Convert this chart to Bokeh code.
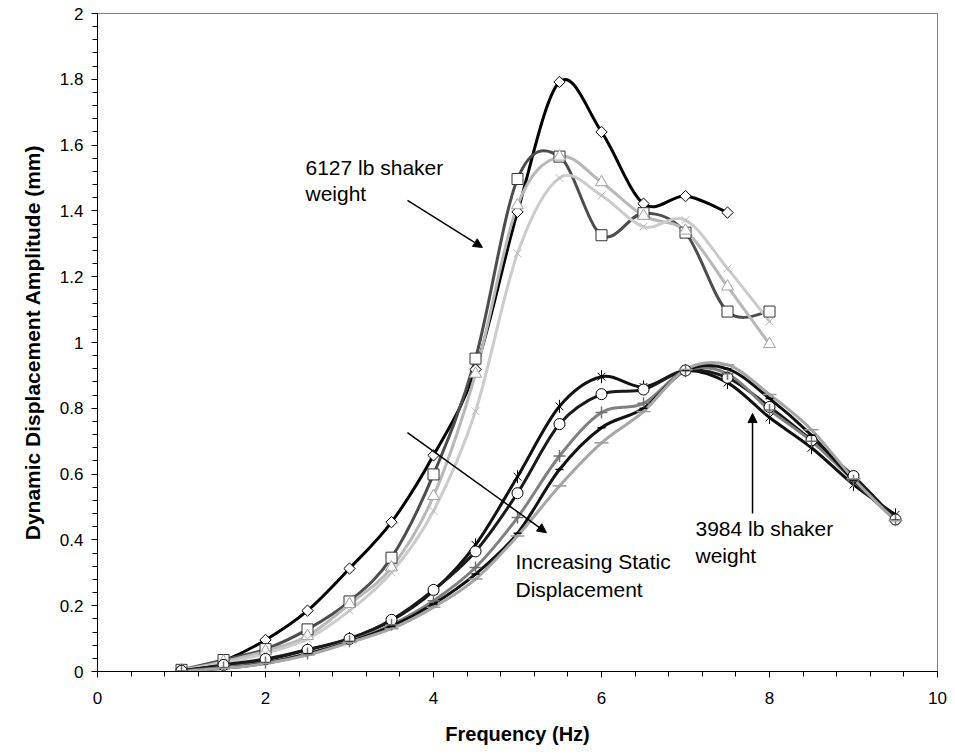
import numpy as np
from bokeh.plotting import figure
from bokeh.models import (SingleIntervalTicker, CustomJSTickFormatter, Label, Arrow,
                          NormalHead, Range1d, ColumnDataSource)
from bokeh.embed import file_html
from bokeh.resources import INLINE

# ---------------- data ----------------
freq_6127 = [1, 1.5, 2, 2.5, 3, 3.5, 4, 4.5, 5, 5.5, 6, 6.5, 7, 7.5, 8]
diamond_6127 = [0.005, 0.033, 0.096, 0.185, 0.313, 0.454, 0.657, 0.918, 1.397, 1.792,
                1.640, 1.422, 1.445, 1.395]
square_6127 = [0.005, 0.035, 0.068, 0.128, 0.213, 0.346, 0.599, 0.951, 1.497, 1.565,
               1.326, 1.393, 1.334, 1.094, 1.094]
triangle_6127 = [0.004, 0.030, 0.062, 0.108, 0.205, 0.316, 0.533, 0.905, 1.417, 1.565,
                 1.487, 1.385, 1.340, 1.170, 0.995]
cross_6127 = [0.003, 0.025, 0.055, 0.099, 0.185, 0.301, 0.488, 0.791, 1.271, 1.500,
              1.447, 1.352, 1.372, 1.225, 1.064]

freq_3984 = [1, 1.5, 2, 2.5, 3, 3.5, 4, 4.5, 5, 5.5, 6, 6.5, 7, 7.5, 8, 8.5, 9, 9.5]
star_3984 = [0.002, 0.018, 0.035, 0.066, 0.100, 0.155, 0.245, 0.385, 0.592, 0.806,
             0.896, 0.865, 0.915, 0.878, 0.772, 0.680, 0.568, 0.476]
circle_3984 = [0.002, 0.020, 0.038, 0.066, 0.099, 0.157, 0.248, 0.365, 0.542, 0.752,
               0.843, 0.857, 0.915, 0.893, 0.804, 0.703, 0.594, 0.462]
plus_3984 = [0.001, 0.012, 0.027, 0.055, 0.092, 0.142, 0.215, 0.316, 0.468, 0.655,
             0.787, 0.815, 0.915, 0.905, 0.795, 0.700, 0.580, 0.460]
dash_3984 = [0.001, 0.010, 0.025, 0.053, 0.090, 0.137, 0.205, 0.296, 0.420, 0.614,
             0.741, 0.800, 0.915, 0.920, 0.830, 0.718, 0.582, 0.460]
longdash_3984 = [0.001, 0.010, 0.024, 0.050, 0.088, 0.130, 0.195, 0.281, 0.412, 0.564,
                 0.695, 0.790, 0.918, 0.932, 0.842, 0.735, 0.586, 0.458]

x_ticks_interval = 2
y_ticks_interval = 0.2
x_title = "Frequency (Hz)"
y_title = "Dynamic Displacement Amplitude (mm)"

FONT = "Liberation Sans"

# ---------------- figure ----------------
p = figure(width=955, height=755, output_backend="svg", toolbar_location=None,
           x_range=Range1d(0, 10), y_range=Range1d(0, 2),
           min_border_left=97, min_border_right=18, min_border_top=13, min_border_bottom=84)
p.background_fill_color = "white"
p.border_fill_color = "white"
p.outline_line_color = "#808080"
p.outline_line_width = 1
p.grid.visible = False

p.xaxis.ticker = SingleIntervalTicker(interval=x_ticks_interval, num_minor_ticks=5)
p.yaxis.ticker = SingleIntervalTicker(interval=y_ticks_interval, num_minor_ticks=5)
p.yaxis.formatter = CustomJSTickFormatter(code="return String(Number(tick.toFixed(2)));")
p.xaxis.formatter = CustomJSTickFormatter(code="return String(Number(tick.toFixed(2)));")

for ax in (p.xaxis, p.yaxis):
    ax.axis_line_color = "black"
    ax.axis_line_width = 1
    ax.major_tick_line_color = "black"
    ax.minor_tick_line_color = "black"
    ax.major_tick_in = 0
    ax.major_tick_out = 6
    ax.minor_tick_in = 0
    ax.minor_tick_out = 5
    ax.major_label_text_font = FONT
    ax.major_label_text_font_size = "17px"
    ax.major_label_text_color = "black"
    ax.axis_label_text_font = FONT
    ax.axis_label_text_font_style = "bold"
    ax.axis_label_text_color = "black"

p.xaxis.axis_label = x_title
p.yaxis.axis_label = y_title
p.xaxis.axis_label_text_font_size = "20px"
p.yaxis.axis_label_text_font_size = "21px"
p.xaxis.major_label_standoff = 14
p.yaxis.major_label_standoff = 8
p.xaxis.axis_label_standoff = 16
p.yaxis.axis_label_standoff = 13


def smooth_source(xs, ys):
    """Bezier control points (Excel-like smoothed line) computed from the data."""
    n = min(len(xs), len(ys))
    x = np.asarray(xs[:n], float)
    y = np.asarray(ys[:n], float)
    xp = np.concatenate([[x[0]], x, [x[-1]]])
    yp = np.concatenate([[y[0]], y, [y[-1]]])
    return ColumnDataSource(dict(
        x0=x[:-1], y0=y[:-1], x1=x[1:], y1=y[1:],
        cx0=x[:-1] + (xp[2:n + 1] - xp[0:n - 1]) / 6.0,
        cy0=y[:-1] + (yp[2:n + 1] - yp[0:n - 1]) / 6.0,
        cx1=x[1:] - (xp[3:n + 2] - xp[1:n]) / 6.0,
        cy1=y[1:] - (yp[3:n + 2] - yp[1:n]) / 6.0,
    ))


series = [
    (freq_6127, diamond_6127, "#000000"),
    (freq_6127, square_6127, "#4d4d4d"),
    (freq_6127, triangle_6127, "#b8b8b8"),
    (freq_6127, cross_6127, "#cccccc"),
    (freq_3984, star_3984, "#111111"),
    (freq_3984, circle_3984, "#1a1a1a"),
    (freq_3984, plus_3984, "#808080"),
    (freq_3984, dash_3984, "#111111"),
    (freq_3984, longdash_3984, "#a6a6a6"),
]
for xs, ys, col in series:
    src = smooth_source(xs, ys)
    p.bezier(x0="x0", y0="y0", x1="x1", y1="y1", cx0="cx0", cy0="cy0", cx1="cx1", cy1="cy1",
             source=src, line_color=col, line_width=3, line_cap="round")


def pts(xs, ys):
    n = min(len(xs), len(ys))
    return ColumnDataSource(dict(x=xs[:n], y=ys[:n]))


# markers, upper group
p.scatter("x", "y", source=pts(freq_6127, diamond_6127), marker="square", angle=np.pi / 4,
          size=8, fill_color="white", line_color="black", line_width=1)
p.scatter("x", "y", source=pts(freq_6127, square_6127), marker="square",
          size=11, fill_color="white", line_color="#333333", line_width=1)
p.scatter("x", "y", source=pts(freq_6127, triangle_6127), marker="triangle",
          size=12, fill_color="white", line_color="#a0a0a0", line_width=1)
p.scatter("x", "y", source=pts(freq_6127, cross_6127), marker="x",
          size=11, line_color="#bbbbbb", line_width=1)
# markers, lower group
p.scatter("x", "y", source=pts(freq_3984, star_3984), marker="x",
          size=11, line_color="black", line_width=1)
p.scatter("x", "y", source=pts(freq_3984, star_3984), marker="dash", angle=np.pi / 2,
          size=13, line_color="black", line_width=1)
p.scatter("x", "y", source=pts(freq_3984, circle_3984), marker="circle",
          size=11, fill_color="white", line_color="black", line_width=1)
p.scatter("x", "y", source=pts(freq_3984, plus_3984), marker="cross",
          size=12, line_color="#707070", line_width=1.5)
p.scatter("x", "y", source=pts(freq_3984, dash_3984), marker="dash",
          size=8, line_color="black", line_width=1.5)
p.scatter("x", "y", source=pts(freq_3984, longdash_3984), marker="dash",
          size=14, line_color="#9a9a9a", line_width=1.5)

# annotations
TFS = "21px"
for txt, x, y in [("6127 lb shaker", 2.476, 1.532), ("weight", 2.476, 1.453),
                  ("Increasing Static", 4.976, 0.334), ("Displacement", 4.976, 0.249),
                  ("3984 lb shaker", 7.119, 0.435), ("weight", 7.119, 0.353)]:
    p.add_layout(Label(x=x, y=y, text=txt, text_font=FONT, text_font_size=TFS,
                       text_color="black", text_align="left", text_baseline="middle"))

for xs, ys, xe, ye in [(3.69, 1.432, 4.583, 1.289),
                       (3.69, 0.726, 5.345, 0.422),
                       (7.798, 0.48, 7.798, 0.784)]:
    p.add_layout(Arrow(x_start=xs, y_start=ys, x_end=xe, y_end=ye, line_color="black",
                       line_width=1.5,
                       end=NormalHead(size=9, fill_color="black", line_color="black")))

open("out.html", "w").write(file_html(p, INLINE))
